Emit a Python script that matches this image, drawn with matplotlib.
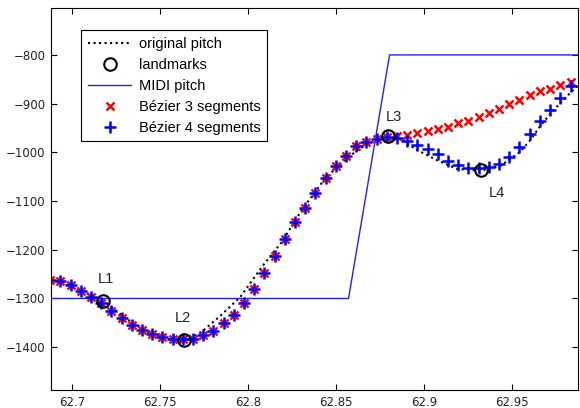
import matplotlib
matplotlib.use("Agg")
import matplotlib.pyplot as plt

# frame times of the fitted curves (s)
frame_t = [62.6875, 62.6933, 62.6991, 62.7049, 62.7107, 62.7165, 62.7223, 62.7281,
           62.7339, 62.7397, 62.7455, 62.7513, 62.7570, 62.7628, 62.7686, 62.7744,
           62.7802, 62.7860, 62.7918, 62.7976, 62.8034, 62.8092, 62.8150, 62.8208,
           62.8266, 62.8324, 62.8382, 62.8440, 62.8498, 62.8556, 62.8614, 62.8672,
           62.8729, 62.8787, 62.8845, 62.8903, 62.8961, 62.9019, 62.9077, 62.9135,
           62.9193, 62.9251, 62.9309, 62.9367, 62.9425, 62.9483, 62.9541, 62.9599,
           62.9657, 62.9715, 62.9773, 62.9831]

bez3 = [-1262, -1265, -1273, -1285, -1297, -1310, -1326, -1341, -1354, -1364,
        -1373, -1380, -1383, -1384, -1383, -1376, -1367, -1351, -1333, -1310,
        -1280, -1248, -1213, -1178, -1144, -1115, -1083, -1052, -1028, -1008,
        -988, -978, -972, -969, -967, -965, -961, -957, -953, -947,
        -940, -935, -928, -920, -910, -901, -892, -882, -874, -869,
        -862, -855]

bez4 = [-1262, -1265, -1273, -1285, -1297, -1310, -1326, -1341, -1354, -1364,
        -1373, -1380, -1383, -1384, -1383, -1376, -1367, -1351, -1333, -1310,
        -1280, -1248, -1213, -1178, -1144, -1115, -1083, -1052, -1028, -1008,
        -988, -978, -972, -969, -971, -977, -984, -994, -1004, -1018,
        -1027, -1032, -1033, -1030, -1023, -1009, -990, -963, -935, -913,
        -888, -863]

# original pitch contour
orig_t = [62.6880, 62.7000, 62.7176, 62.7301, 62.7443, 62.7557, 62.7636, 62.7727,
          62.7841, 62.7955, 62.8078, 62.8191, 62.8305, 62.8438, 62.8570, 62.8682,
          62.8795, 62.8864, 62.8959, 62.9072, 62.9186, 62.9318, 62.9432, 62.9545,
          62.9602, 62.9659, 62.9716, 62.9790, 62.9875]
orig_p = [-1260, -1275, -1304, -1340, -1371, -1384, -1387, -1371,
          -1336, -1297, -1235, -1184, -1118, -1053, -1009, -981,
          -968, -973, -995, -1016, -1034, -1038, -1028, -999,
          -975, -946, -921, -892, -862]

# landmarks
lm_t = [62.7176, 62.7636, 62.8795, 62.9320]
lm_p = [-1305, -1386, -967, -1037]
lm_names = ["L1", "L2", "L3", "L4"]
lm_offsets = [(2, 16), (-1, 16), (4, 14), (12, -16)]

# MIDI pitch
midi_t = [62.6800, 62.8570, 62.8803, 62.9900]
midi_p = [-1300, -1300, -800, -800]

plt.rcParams['font.family'] = ['Liberation Sans', 'DejaVu Sans']

fig = plt.figure(figsize=(5.8, 4.08), dpi=100)
ax = fig.add_axes([0.088, 0.044, 0.909, 0.936])

ax.plot(orig_t, orig_p, linestyle=':', color='black', linewidth=1.5, label='original pitch')
ax.plot(lm_t, lm_p, linestyle='none', marker='o', markersize=9, markerfacecolor='none',
        markeredgecolor='black', markeredgewidth=1.5, label='landmarks', zorder=5)
ax.plot(midi_t, midi_p, color='#2020ff', linewidth=1, label='MIDI pitch')
ax.plot(frame_t, bez3, linestyle='none', marker='x', markersize=6, markeredgewidth=1.8,
        color='#ff0000', label=u'B\u00e9zier 3 segments')
ax.plot(frame_t, bez4, linestyle='none', marker='+', markersize=8, markeredgewidth=1.8,
        color='#0000ff', label=u'B\u00e9zier 4 segments')

for name, t, p, off in zip(lm_names, lm_t, lm_p, lm_offsets):
    ax.annotate(name, (t, p), xytext=off, textcoords='offset points',
                ha='center', va='center', fontsize=10.5, color='#222222')

ax.set_xlim(62.688, 62.9875)
ax.set_ylim(-1488, -704)
ax.set_xticks([62.7, 62.75, 62.8, 62.85, 62.9, 62.95])
ax.set_xticklabels(["62.7", "62.75", "62.8", "62.85", "62.9", "62.95"])
ax.set_yticks([-1400, -1300, -1200, -1100, -1000, -900, -800])
ax.tick_params(direction='in', top=True, right=True, length=4, labelsize=8.5, pad=4)
for lab in ax.get_xticklabels() + ax.get_yticklabels():
    lab.set_family('DejaVu Sans')
    lab.set_color('#222222')

leg = ax.legend(loc='upper left', bbox_to_anchor=(0.057, 0.942), fontsize=10.5,
                frameon=True, fancybox=False, edgecolor='black', framealpha=1,
                handlelength=3.0, handletextpad=0.5, labelspacing=0.48,
                borderpad=0.45, borderaxespad=0)
leg.get_frame().set_linewidth(0.8)

fig.savefig("out.png", dpi=100)
